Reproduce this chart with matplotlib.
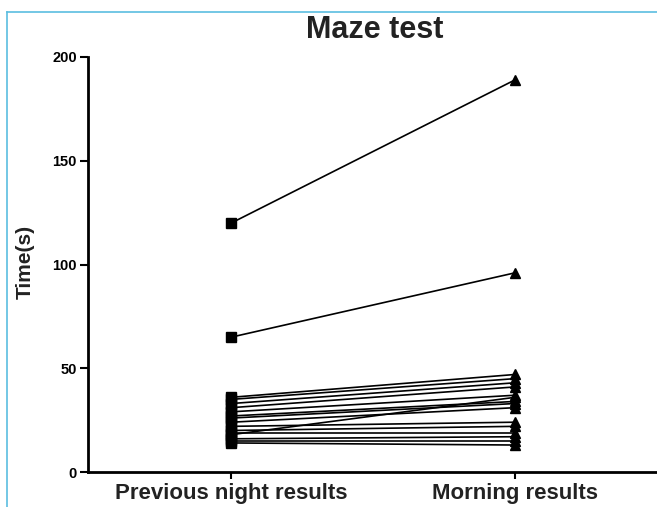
import matplotlib
matplotlib.use('Agg')
import matplotlib.pyplot as plt
from matplotlib.lines import Line2D

# data
categories = ['Previous night results', 'Morning results']
night = [120, 65, 36, 35, 33, 31, 29, 27, 26, 24, 22, 20, 19, 18, 16, 15, 14]
morning = [189, 96, 47, 45, 43, 41, 37, 34, 33, 31, 24, 22, 19, 36, 17, 15, 13]
yticks = [0, 50, 100, 150, 200]

plt.rcParams['font.family'] = ['Liberation Sans', 'DejaVu Sans']

fig = plt.figure(figsize=(6.57, 5.07), dpi=100)
ax = fig.add_axes([88 / 657, 1 - 472 / 507, 1 - 88 / 657, (472 - 57) / 507])

for a, b in zip(night, morning):
    ax.plot([0, 1], [a, b], color='black', lw=1.2, zorder=2)
    ax.plot([0], [a], marker='s', ms=7, color='black', zorder=3)
    ax.plot([1], [b], marker='^', ms=7, color='black', zorder=3)

ax.set_xlim(-0.505, 1.5)
ax.set_ylim(0, 200)
ax.set_yticks(yticks)
ax.set_xticks([0, 1])
ax.set_xticklabels(categories, fontsize=16, fontweight='bold', color='#222222')
ax.tick_params(axis='y', labelsize=10.5, width=1.5, length=6, pad=2)
ax.tick_params(axis='x', width=1.5, length=5, pad=3)
for lab in ax.get_yticklabels():
    lab.set_fontweight('heavy')
for s in ['top', 'right']:
    ax.spines[s].set_visible(False)
for s in ['left', 'bottom']:
    ax.spines[s].set_linewidth(2)
ax.patch.set_alpha(0)

fig.text(25 / 657, 1 - 262 / 507, 'Time(s)', rotation=90, ha='center', va='center',
         fontsize=15, fontweight='bold', color='#222222')
fig.text(375 / 657, 1 - 30 / 507, 'Maze test', ha='center', va='center',
         fontsize=22, fontweight='bold', color='#222222')

# light blue frame at left and top
blue = '#5bbde0'
fig.add_artist(Line2D([7 / 657, 7 / 657], [0, 1 - 12 / 507], color=blue, lw=1.2))
fig.add_artist(Line2D([7 / 657, 1], [1 - 12 / 507, 1 - 12 / 507], color=blue, lw=1.2))

fig.savefig('out.png', dpi=100)
